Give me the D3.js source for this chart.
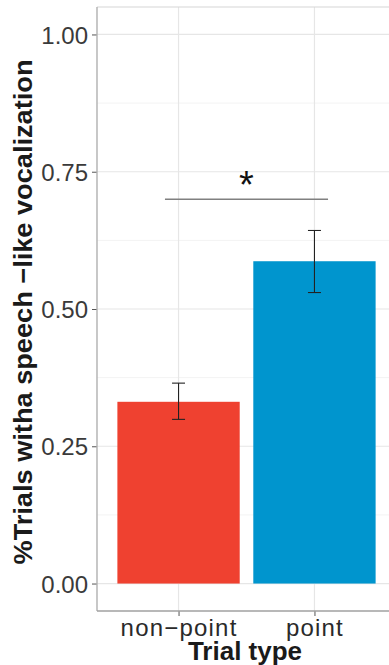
<!DOCTYPE html>
<html>
<head>
<meta charset="utf-8">
<script src="https://cdn.jsdelivr.net/npm/d3@7"></script>
<style>
  html, body { margin: 0; padding: 0; background: #fff; }
  svg { display: block; }
</style>
</head>
<body>
<svg id="chart" width="389" height="665"></svg>
<script>
// Proportion of trials with a speech-like vocalization, by trial type
const categories = ["non\u2212point", "point"];
const means = [0.331, 0.587];
const errLow = [0.299, 0.530];
const errHigh = [0.365, 0.643];
const barColors = ["#EF4130", "#0095CE"];
const yTicks = [0, 0.25, 0.5, 0.75, 1];
const yMinor = [0.125, 0.375, 0.625, 0.875];
const sigBracket = { from: 0.4, to: 1.6, value: 0.7, label: "*" };

const svg = d3.select("#chart");
const panel = { left: 97, right: 396, top: 7, bottom: 611 };

const x = d3.scaleLinear().domain([-0.6, 1.6]).range([panel.left, panel.right]);
const y = d3.scaleLinear().domain([-0.05, 1.05]).range([panel.bottom, panel.top]);
const barHalf = 0.45;

const g = svg.append("g");

// minor grid
g.selectAll("line.minor").data(yMinor).join("line")
  .attr("x1", panel.left).attr("x2", panel.right)
  .attr("y1", d => y(d)).attr("y2", d => y(d))
  .attr("stroke", "#F3F3F3").attr("stroke-width", 1);

// major grid
g.selectAll("line.major").data(yTicks).join("line")
  .attr("x1", panel.left).attr("x2", panel.right)
  .attr("y1", d => y(d)).attr("y2", d => y(d))
  .attr("stroke", "#E6E6E6").attr("stroke-width", 1.2);
g.selectAll("line.vmajor").data(categories).join("line")
  .attr("x1", (d, i) => x(i)).attr("x2", (d, i) => x(i))
  .attr("y1", panel.top).attr("y2", panel.bottom)
  .attr("stroke", "#E6E6E6").attr("stroke-width", 1.2);

// panel top border
g.append("line")
  .attr("x1", panel.left).attr("x2", panel.right)
  .attr("y1", panel.top).attr("y2", panel.top)
  .attr("stroke", "#D6D6D6").attr("stroke-width", 1.2);

// bars
g.selectAll("rect.bar").data(means).join("rect")
  .attr("x", (d, i) => x(i - barHalf))
  .attr("width", (d, i) => x(i + barHalf) - x(i - barHalf))
  .attr("y", d => y(d))
  .attr("height", d => y(0) - y(d))
  .attr("fill", (d, i) => barColors[i]);

// error bars
const capHalf = 6.5;
const eb = g.selectAll("g.eb").data(means).join("g");
eb.append("line")
  .attr("x1", (d, i) => x(i)).attr("x2", (d, i) => x(i))
  .attr("y1", (d, i) => y(errLow[i])).attr("y2", (d, i) => y(errHigh[i]))
  .attr("stroke", "#222").attr("stroke-width", 1.1);
eb.append("line")
  .attr("x1", (d, i) => x(i) - capHalf).attr("x2", (d, i) => x(i) + capHalf)
  .attr("y1", (d, i) => y(errHigh[i])).attr("y2", (d, i) => y(errHigh[i]))
  .attr("stroke", "#222").attr("stroke-width", 1.1);
eb.append("line")
  .attr("x1", (d, i) => x(i) - capHalf).attr("x2", (d, i) => x(i) + capHalf)
  .attr("y1", (d, i) => y(errLow[i])).attr("y2", (d, i) => y(errLow[i]))
  .attr("stroke", "#222").attr("stroke-width", 1.1);

// significance bracket
g.append("line")
  .attr("x1", x(sigBracket.from - 0.5)).attr("x2", x(sigBracket.to - 0.5))
  .attr("y1", y(sigBracket.value)).attr("y2", y(sigBracket.value))
  .attr("stroke", "#808080").attr("stroke-width", 1.4);
g.append("text")
  .attr("x", x((sigBracket.from + sigBracket.to) / 2 - 0.5))
  .attr("y", y(sigBracket.value) - 1)
  .attr("text-anchor", "middle")
  .attr("font-family", "Liberation Sans, Arial, sans-serif")
  .attr("font-size", 38)
  .attr("fill", "#111")
  .text(sigBracket.label);

// y axis
const yAxis = d3.axisLeft(y).tickValues(yTicks).tickFormat(d3.format(".2f")).tickSize(5).tickPadding(4);
const ya = svg.append("g").attr("transform", `translate(${panel.left},0)`).call(yAxis);
ya.select(".domain").remove();
ya.selectAll(".tick line").attr("stroke", "#555").attr("stroke-width", 1);
ya.selectAll(".tick text")
  .attr("font-family", "Liberation Sans, Arial, sans-serif")
  .attr("font-size", 24)
  .attr("fill", "#3a3a3a")
  .attr("dy", "0.36em");
svg.append("line")
  .attr("x1", panel.left).attr("x2", panel.left)
  .attr("y1", panel.top).attr("y2", panel.bottom)
  .attr("stroke", "#B0B0B0").attr("stroke-width", 1.4);

// x axis
const xAxis = d3.axisBottom(x).tickValues(categories.map((d, i) => i))
  .tickFormat(i => categories[i]).tickSize(5).tickPadding(3);
const xa = svg.append("g").attr("transform", `translate(0,${panel.bottom})`).call(xAxis);
xa.select(".domain").remove();
xa.selectAll(".tick line").attr("stroke", "#555").attr("stroke-width", 1);
xa.selectAll(".tick text")
  .attr("font-family", "Liberation Sans, Arial, sans-serif")
  .attr("font-size", 24)
  .attr("letter-spacing", "1.2px")
  .attr("fill", "#2a2a2a");
svg.append("line")
  .attr("x1", panel.left).attr("x2", panel.right)
  .attr("y1", panel.bottom).attr("y2", panel.bottom)
  .attr("stroke", "#A0A0A0").attr("stroke-width", 1.4);

// axis titles
svg.append("text")
  .attr("transform", "translate(32,312) rotate(-90)")
  .attr("text-anchor", "middle")
  .attr("font-family", "Liberation Sans, Arial, sans-serif")
  .attr("font-weight", "bold")
  .attr("font-size", 26)
  .attr("textLength", 505)
  .attr("lengthAdjust", "spacingAndGlyphs")
  .attr("fill", "#1a1a1a")
  .text("%Trials witha speech \u2212like vocalization");

svg.append("text")
  .attr("x", 245).attr("y", 660)
  .attr("text-anchor", "middle")
  .attr("font-family", "Liberation Sans, Arial, sans-serif")
  .attr("font-weight", "bold")
  .attr("font-size", 26)
  .attr("fill", "#1a1a1a")
  .text("Trial type");
</script>
</body>
</html>
